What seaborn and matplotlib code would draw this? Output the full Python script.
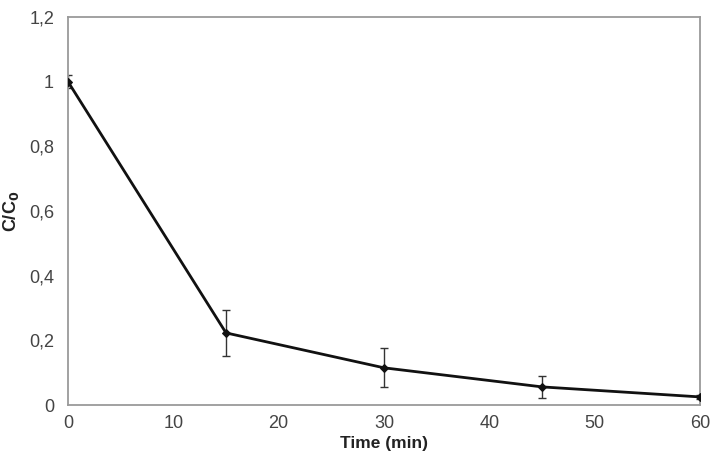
import matplotlib
matplotlib.use("Agg")
import matplotlib.pyplot as plt
import seaborn as sns
import pandas as pd
import numpy as np

time_min = [0, 15, 30, 45, 60]
c_ratio = [1.0, 0.223, 0.115, 0.056, 0.025]
c_err = [0.02, 0.07, 0.06, 0.033, 0.006]
x_ticks = [0, 10, 20, 30, 40, 50, 60]
y_ticks = [0, 0.2, 0.4, 0.6, 0.8, 1.0, 1.2]
y_ticklabels = ["0", "0,2", "0,4", "0,6", "0,8", "1", "1,2"]

sns.set_style("white")
plt.rcParams['font.family'] = ['Liberation Sans', 'DejaVu Sans']

df = pd.DataFrame({"t": time_min, "c": c_ratio})

fig = plt.figure(figsize=(7.1, 4.68), dpi=100)
ax = fig.add_axes([68/710, 63/468, 632/710, 388/468])

ax.errorbar(time_min, c_ratio, yerr=c_err, fmt='none', ecolor='#333333',
            elinewidth=1.0, capsize=3, capthick=1.0, zorder=2)
sns.lineplot(data=df, x="t", y="c", ax=ax, color='#111111', linewidth=2.0,
             marker='D', markersize=4.5, markeredgecolor='#111111', zorder=3)

ax.set_xlim(0, 60)
ax.set_ylim(0, 1.2)
ax.set_xticks(x_ticks)
ax.set_xticklabels([str(v) for v in x_ticks])
ax.set_yticks(y_ticks)
ax.set_yticklabels(y_ticklabels)

for s in ax.spines.values():
    s.set_color('#9a9a9a')
    s.set_linewidth(1.3)
ax.tick_params(axis='both', direction='out', length=4, width=1, color='#9a9a9a',
               labelsize=13, labelcolor='#444444', pad=6)
ax.tick_params(axis='x', direction='inout', length=6, pad=4)

ax.set_xlabel("Time (min)", fontsize=12.5, fontweight='bold', color='#222222', labelpad=3)
ax.set_ylabel("C/C$_\\mathbf{0}$", fontsize=13, fontweight='bold', color='#222222', labelpad=6)

fig.savefig("out.png", dpi=100)
